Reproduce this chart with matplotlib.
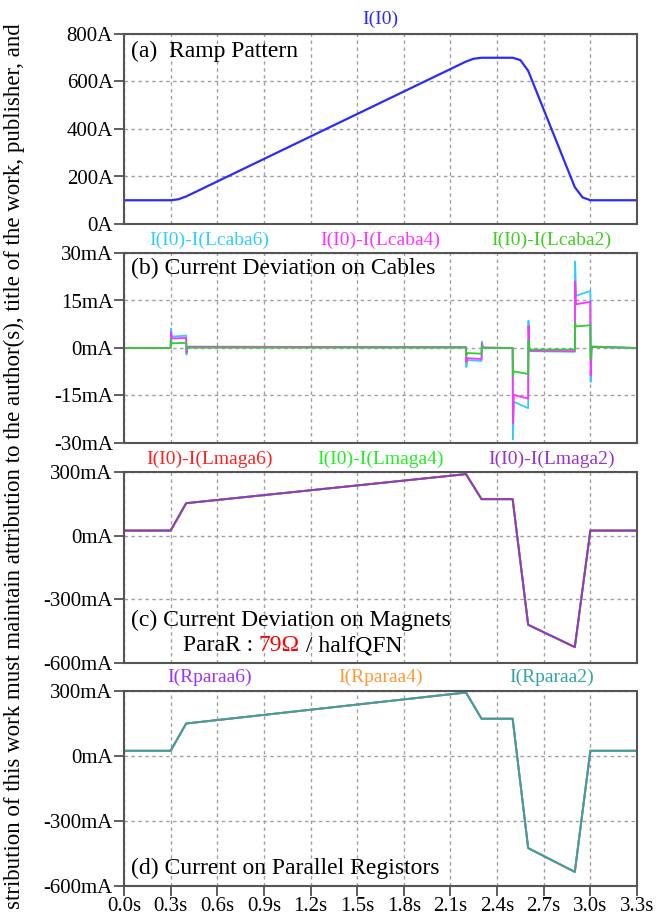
import numpy as np
import matplotlib
matplotlib.use('Agg')
import matplotlib.pyplot as plt
import matplotlib as mpl

mpl.rcParams['font.family'] = ['Liberation Serif', 'DejaVu Serif']
mpl.rcParams['axes.linewidth'] = 1.5

# time axis
x_ticks = [0.0, 0.3, 0.6, 0.9, 1.2, 1.5, 1.8, 2.1, 2.4, 2.7, 3.0, 3.3]
x_labels = ['0.0s', '0.3s', '0.6s', '0.9s', '1.2s', '1.5s', '1.8s', '2.1s', '2.4s', '2.7s', '3.0s', '3.3s']

# (a) ramp pattern, I(I0) in A
t_a = [0.0, 0.3, 0.35, 0.4, 2.2, 2.25, 2.3, 2.5, 2.55, 2.6, 2.9, 2.95, 3.0, 3.3]
i0 = [100, 100, 104, 116, 684, 696, 700, 700, 690, 645, 155, 112, 100, 100]
a_ticks = [0, 200, 400, 600, 800]
a_labels = ['0A', '200A', '400A', '600A', '800A']

# (b) deviation on cables, mA
t_b = [0.0, 0.3, 0.302, 0.308, 0.4, 0.402, 0.408, 2.2, 2.202, 2.208, 2.3, 2.302, 2.308,
       2.5, 2.502, 2.508, 2.6, 2.602, 2.608, 2.9, 2.902, 2.908, 3.0, 3.002, 3.008, 3.3]
caba6 = [0, 0, 6.1, 3.6, 3.9, -2.1, 0.4, 0.2, -6.0, -3.8, -4.1, 2.0, 0.1,
         0.0, -28.8, -17.0, -19.0, 8.6, -1.0, -1.2, 27.3, 16.5, 18.0, -10.7, 0.5, 0.0]
caba4 = [0, 0, 5.0, 3.0, 3.2, -1.4, 0.4, 0.3, -4.5, -3.2, -3.5, 1.5, 0.2,
         0.0, -23.8, -14.8, -16.0, 7.0, -0.9, -1.0, 21.0, 13.8, 14.6, -8.7, 0.4, 0.0]
caba2 = [0, 0, 2.9, 1.5, 1.6, -0.5, 0.1, 0.1, -2.4, -1.6, -1.8, 0.8, 0.0,
         0.0, -8.7, -7.4, -8.2, 2.3, -0.5, -0.5, 8.0, 6.8, 7.2, -3.4, 0.3, 0.0]
b_ticks = [-30, -15, 0, 15, 30]
b_labels = ['-30mA', '-15mA', '0mA', '15mA', '30mA']

# (c) deviation on magnets, mA
t_c = [0.0, 0.3, 0.4, 2.2, 2.3, 2.5, 2.6, 2.9, 3.0, 3.3]
maga6 = [24, 24, 153, 290, 172, 172, -420, -525, 24, 24]
maga4 = [24, 24, 153, 290, 172, 172, -420, -525, 24, 24]
maga2 = [24, 24, 153, 290, 172, 172, -420, -525, 24, 24]

# (d) current on parallel resistors, mA
paraa6 = [24, 24, 150, 293, 172, 172, -425, -535, 24, 24]
paraa4 = [24, 24, 150, 293, 172, 172, -425, -535, 24, 24]
paraa2 = [24, 24, 150, 293, 172, 172, -425, -535, 24, 24]
cd_ticks = [-600, -300, 0, 300]
cd_labels = ['-600mA', '-300mA', '0mA', '300mA']

W, H = 658, 921
fig = plt.figure(figsize=(W / 100, H / 100), dpi=100)


def make_ax(top, bottom):
    ax = fig.add_axes([124 / W, 1 - bottom / H, (637 - 124) / W, (bottom - top) / H])
    ax.set_xlim(0, 3.3)
    ax.set_xticks(x_ticks)
    ax.grid(True, color='#a0a0a0', linestyle=(0, (2.5, 2.5)), linewidth=1)
    for s in ax.spines.values():
        s.set_color('#555555')
    ax.tick_params(axis='y', direction='out', length=7, width=1.2, color='#444444',
                   labelsize=15, pad=1)
    ax.tick_params(axis='x', length=0, labelbottom=False)
    return ax


def legend_labels(ax, names, colors, dy=13):
    for xf, name, c in zip([1 / 6, 0.5, 5 / 6], names, colors):
        ax.annotate(name, xy=(xf, 1), xycoords='axes fraction', xytext=(0, dy),
                    textcoords='offset pixels', ha='center', va='center',
                    fontsize=14, color=c)


# (a)
ax1 = make_ax(34, 224)
ax1.plot(t_a, i0, color='#2b2bff', lw=1.6)
ax1.set_ylim(0, 800)
ax1.set_yticks(a_ticks)
ax1.set_yticklabels(a_labels)
ax1.annotate('I(I0)', xy=(0.5, 1), xycoords='axes fraction', xytext=(0, 15),
             textcoords='offset pixels', ha='center', va='center', fontsize=14,
             color='#2b2bff')
ax1.text(0.0136, 0.91, '(a)  Ramp Pattern', transform=ax1.transAxes, fontsize=17,
         va='center', ha='left')

# (b)
ax2 = make_ax(253, 443)
ax2.plot(t_b, caba6, color='#33ccff', lw=1.3)
ax2.plot(t_b, caba4, color='#ff33ff', lw=1.3)
ax2.plot(t_b, caba2, color='#33cc33', lw=1.3)
ax2.set_ylim(-30, 30)
ax2.set_yticks(b_ticks)
ax2.set_yticklabels(b_labels)
legend_labels(ax2, ['I(I0)-I(Lcaba6)', 'I(I0)-I(Lcaba4)', 'I(I0)-I(Lcaba2)'],
              ['#33ccff', '#ff33ff', '#44cc22'])
ax2.text(0.0136, 0.921, '(b) Current Deviation on Cables', transform=ax2.transAxes,
         fontsize=17, va='center', ha='left')

# (c)
ax3 = make_ax(472, 663)
ax3.plot(t_c, maga6, color='#ff2020', lw=1.4)
ax3.plot(t_c, maga4, color='#22ee22', lw=1.4)
ax3.plot(t_c, maga2, color='#9933cc', lw=1.4)
ax3.set_ylim(-600, 300)
ax3.set_yticks(cd_ticks)
ax3.set_yticklabels(cd_labels)
legend_labels(ax3, ['I(I0)-I(Lmaga6)', 'I(I0)-I(Lmaga4)', 'I(I0)-I(Lmaga2)'],
              ['#ff2020', '#22ee22', '#9933cc'])
ax3.text(0.0136, 0.222, '(c) Current Deviation on Magnets', transform=ax3.transAxes,
         fontsize=17, va='center', ha='left')
p1 = ax3.text(0.115, 0.035, 'ParaR : ', transform=ax3.transAxes, fontsize=17,
              va='bottom', ha='left')
p2 = ax3.annotate('79Ω', xy=(1, 0), xycoords=p1, fontsize=17, va='bottom',
                  ha='left', color='red')
ax3.annotate(' / halfQFN', xy=(1, 0), xycoords=p2, fontsize=17, va='bottom',
             ha='left')

# (d)
ax4 = make_ax(691, 886)
ax4.plot(t_c, paraa6, color='#9933ff', lw=1.4)
ax4.plot(t_c, paraa4, color='#ff9933', lw=1.4)
ax4.plot(t_c, paraa2, color='#33a3a3', lw=1.4)
ax4.set_ylim(-600, 300)
ax4.set_yticks(cd_ticks)
ax4.set_yticklabels(cd_labels)
ax4.set_xticks(x_ticks)
ax4.set_xticklabels(x_labels)
ax4.tick_params(axis='x', direction='out', length=7, width=1.2, color='#444444',
                labelsize=15, pad=1, labelbottom=True)
legend_labels(ax4, ['I(Rparaa6)', 'I(Rparaa4)', 'I(Rparaa2)'],
              ['#9933ff', '#ff9933', '#33a3a3'], dy=14)
ax4.text(0.0136, 0.092, '(d) Current on Parallel Registors', transform=ax4.transAxes,
         fontsize=17, va='center', ha='left')

# clipped side notice
fig.text(14 / W, 0.494, 'stribution of this work must maintain attribution to the author(s), '
         'title of the work, publisher, and', rotation=90, fontsize=16.5,
         ha='center', va='center')

fig.savefig('out.png', dpi=100)
